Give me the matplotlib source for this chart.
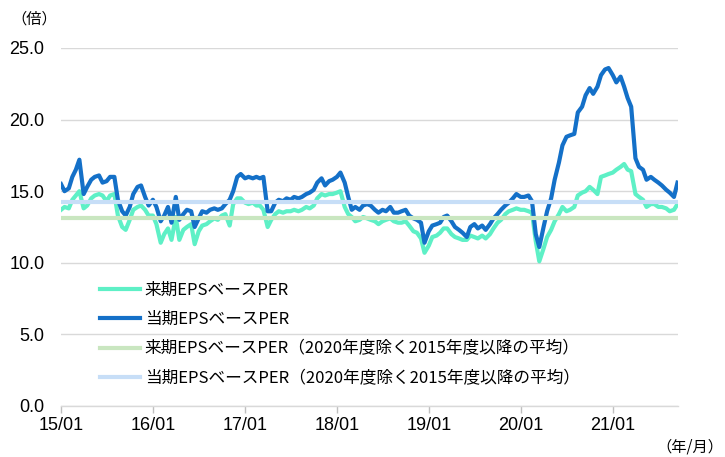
import matplotlib
matplotlib.use("Agg")
import matplotlib.pyplot as plt
import pandas as pd
import datetime as dt

# semi-monthly observation dates (1st and 15th), Jan 2015 - Sep 2021
dates = pd.date_range("2015-01-01", "2021-09-15", freq="SMS")

per_current = [  # 当期EPSベースPER
    15.5, 15.0, 15.2, 16.0, 16.5, 17.2, 14.8, 15.3, 15.8, 16.0, 16.1, 15.6,
    15.7, 16.0, 16.0, 14.4, 13.6, 13.3, 13.9, 14.8, 15.3, 15.4, 14.6, 14.0,
    14.4, 13.9, 12.9, 13.3, 13.9, 12.8, 14.6, 13.0, 13.4, 13.7, 13.6, 12.5,
    13.1, 13.6, 13.5, 13.7, 13.8, 13.7, 13.8, 14.1, 14.4, 15.0, 16.0, 16.2,
    15.9, 16.0, 15.9, 16.0, 15.9, 16.0, 13.6, 13.6, 14.2, 14.4, 14.3, 14.5,
    14.4, 14.6, 14.5, 14.6, 14.8, 14.9, 15.1, 15.6, 15.9, 15.4, 15.7, 15.8,
    16.0, 16.3, 15.6, 14.6, 13.7, 13.9, 13.7, 14.0, 14.1, 14.0, 13.7, 13.5,
    13.7, 13.6, 13.9, 13.5, 13.5, 13.6, 13.7, 13.3, 13.1, 13.0, 12.8, 11.4,
    12.2, 12.6, 12.7, 12.8, 13.2, 13.3, 12.9, 12.5, 12.3, 12.1, 11.8, 12.5,
    12.7, 12.4, 12.6, 12.3, 12.7, 13.1, 13.4, 13.7, 14.0, 14.2, 14.5, 14.8,
    14.6, 14.6, 14.7, 14.3, 12.0, 11.1, 12.5, 13.6, 14.5, 15.8, 17.0, 18.2,
    18.8, 18.9, 19.0, 20.5, 20.9, 21.7, 22.2, 21.8, 22.3, 23.1, 23.5, 23.6,
    23.1, 22.6, 23.0, 22.3, 21.5, 20.9, 17.3, 16.7, 16.5, 15.8, 16.0, 15.8,
    15.6, 15.4, 15.1, 14.9, 14.6, 15.6,
]

per_next = [  # 来期EPSベースPER
    13.7, 13.9, 13.8, 14.4, 14.7, 15.0, 13.8, 14.0, 14.5, 14.7, 14.8, 14.7,
    14.3, 14.7, 14.8, 13.3, 12.5, 12.3, 13.0, 13.7, 13.9, 14.0, 13.7, 13.3,
    13.3, 12.7, 11.4, 12.0, 12.4, 11.6, 13.2, 11.6, 12.3, 12.5, 12.7, 11.3,
    12.2, 12.6, 12.7, 12.9, 13.1, 13.0, 13.3, 13.4, 12.6, 14.1, 14.5, 14.5,
    14.2, 14.1, 14.2, 14.0, 14.0, 13.7, 12.5, 13.0, 13.4, 13.6, 13.5, 13.6,
    13.6, 13.7, 13.6, 13.7, 13.9, 13.8, 14.0, 14.5, 14.8, 14.7, 14.8, 14.8,
    14.9, 15.0, 13.9, 13.4, 13.2, 12.9, 13.0, 13.2, 13.1, 13.0, 12.9, 12.7,
    12.9, 13.0, 13.1, 12.9, 12.8, 12.8, 12.9, 12.6, 12.2, 12.1, 11.7, 10.7,
    11.2, 11.8, 11.9, 12.1, 12.4, 12.4, 12.0, 11.8, 11.7, 11.6, 11.6, 11.9,
    11.8, 11.7, 11.9, 11.7, 12.0, 12.4, 12.8, 13.0, 13.4, 13.6, 13.7, 13.8,
    13.7, 13.7, 13.6, 13.5, 11.5, 10.1, 11.0, 11.8, 12.3, 12.9, 13.4, 13.9,
    13.6, 13.7, 13.9, 14.7, 14.9, 15.0, 15.3, 15.1, 14.8, 16.0, 16.1, 16.2,
    16.3, 16.5, 16.7, 16.9, 16.5, 16.4, 14.8, 14.6, 14.4, 13.9, 14.1, 14.1,
    13.9, 13.9, 13.8, 13.6, 13.7, 14.1,
]

avg_next = 13.1      # 来期EPSベースPER（2020年度除く2015年度以降の平均）
avg_current = 14.25  # 当期EPSベースPER（2020年度除く2015年度以降の平均）

labels = [
    "来期EPSベースPER",
    "当期EPSベースPER",
    "来期EPSベースPER（2020年度除く2015年度以降の平均）",
    "当期EPSベースPER（2020年度除く2015年度以降の平均）",
]
colors = ["#5EF0C6", "#1470C8", "#C9E6C0", "#C7DEF7"]

yticks = [0, 5, 10, 15, 20, 25]
xtick_years = list(range(2015, 2022))

CJK = ["Noto Sans CJK JP", "DejaVu Sans"]
LAT = ["Liberation Sans", "Noto Sans CJK JP", "DejaVu Sans"]

fig = plt.figure(figsize=(7.25, 4.57), dpi=100)
ax = fig.add_axes([61 / 725, 1 - 406 / 457, 617 / 725, 358 / 457])

x0 = dt.datetime(2015, 1, 1)
x1 = dates[-1] + pd.Timedelta(days=2)

ax.plot(dates, per_next, color=colors[0], lw=3.0, label=labels[0], zorder=3,
        solid_joinstyle="round")
ax.plot(dates, per_current, color=colors[1], lw=3.0, label=labels[1], zorder=4,
        solid_joinstyle="round")
ax.plot([x0, x1], [avg_next, avg_next], color=colors[2], lw=3.0, label=labels[2], zorder=5)
ax.plot([x0, x1], [avg_current, avg_current], color=colors[3], lw=3.0, label=labels[3], zorder=5)

ax.set_xlim(x0, x1)
ax.set_ylim(0, 25)
ax.set_yticks(yticks)
ax.set_yticklabels([f"{v:.1f}" for v in yticks], fontfamily=LAT, fontsize=13)
ax.yaxis.grid(True, color="#D9D9D9", lw=1.0)
ax.set_axisbelow(True)
ax.tick_params(axis="y", length=0, pad=12)

ax.set_xticks([dt.datetime(y, 1, 1) for y in xtick_years])
ax.set_xticklabels([f"{y % 100:02d}/01" for y in xtick_years], fontfamily=LAT, fontsize=13)
ax.tick_params(axis="x", length=5, color="#BFBFBF", width=1.0, pad=3)

for s in ["top", "right", "left"]:
    ax.spines[s].set_visible(False)
ax.spines["bottom"].set_color("#D9D9D9")
ax.spines["bottom"].set_linewidth(1.0)

leg = ax.legend(loc="upper left", bbox_to_anchor=(0.063, 0.347), frameon=False,
                prop={"family": CJK, "size": 12}, handlelength=2.4,
                handletextpad=0.3, labelspacing=0.74, borderpad=0, borderaxespad=0)

fig.text(11 / 725, 1 - 19 / 457, "（倍）", family=CJK, fontsize=11, va="center", ha="left")
fig.text(723 / 725, 1 - 447 / 457, "（年/月）", family=CJK, fontsize=11, va="center", ha="right")

fig.savefig("out.png", dpi=100)
